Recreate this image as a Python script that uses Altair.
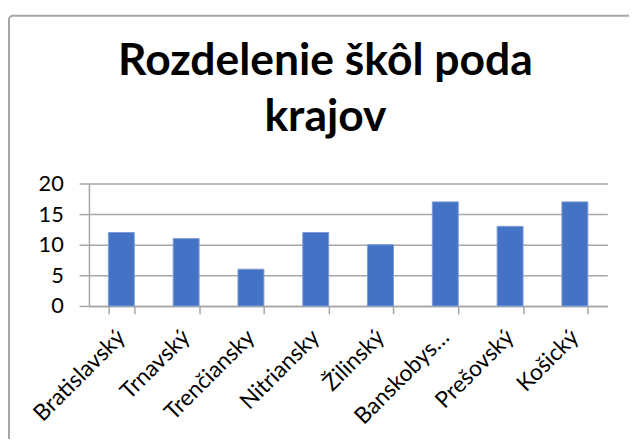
import altair as alt
import pandas as pd

regions = ["Bratislavský", "Trnavský", "Trenčiansky", "Nitriansky", "Žilinský",
           "Banskobys…", "Prešovský", "Košický"]
counts = [12, 11, 6, 12, 10, 17, 13, 17]
y_ticks = [0, 5, 10, 15, 20]
title_lines = ["Rozdelenie škôl poda", "krajov"]

df = pd.DataFrame({"kraj": regions, "pocet": counts})

W, H = 525, 124
PL, PT, PR, PB = 82, 175, 22, 132

bars = alt.Chart(df).mark_bar(color="#4472C4", stroke="#7d9bd6", strokeWidth=1).encode(
    x=alt.X("kraj:N", sort=regions, title=None,
            scale=alt.Scale(paddingInner=0.6, paddingOuter=0.3),
            axis=alt.Axis(labelAngle=-45, labelAlign="right", labelBaseline="top",
                          labelFont="Lato", labelFontSize=23, labelColor="#000000",
                          labelPadding=12, labelOffset=-8, tickBand="extent", tickSize=8,
                          tickColor="#a6a6a6", domainColor="#a6a6a6", tickWidth=1.5,
                          domainWidth=1.5, grid=False, labelLimit=300)),
    y=alt.Y("pocet:Q", title=None,
            scale=alt.Scale(domain=[0, 20], nice=False),
            axis=alt.Axis(values=y_ticks, labelFont="Lato", labelFontSize=22,
                          labelColor="#000000", labelPadding=16, tickSize=10,
                          tickColor="#a6a6a6", domainColor="#a6a6a6",
                          gridColor="#a6a6a6", gridWidth=1.5, tickWidth=1.5,
                          domainWidth=1.5)),
)

border = alt.Chart(pd.DataFrame({"a": [0]})).mark_rect(
    fill=None, stroke="#a6a6a6", strokeWidth=2, cornerRadius=4
).encode(x=alt.value(-PL + 1), x2=alt.value(W + PR + 40),
         y=alt.value(-PT + 5), y2=alt.value(H + PB + 40))

chart = alt.layer(border, bars).properties(
    width=W, height=H,
    padding={"left": PL, "top": PT, "right": PR, "bottom": PB},
    autosize=alt.AutoSizeParams(type="none"),
    title=alt.TitleParams(text=title_lines, font="Lato", fontSize=45, fontWeight="bold",
                          color="#000000", anchor="middle", lineHeight=57,
                          baseline="alphabetic", frame="group",
                          dx=-23, dy=163, offset=0),
).configure_view(stroke=None)

chart.save("out.html", embed_options={"renderer": "svg", "actions": False})
